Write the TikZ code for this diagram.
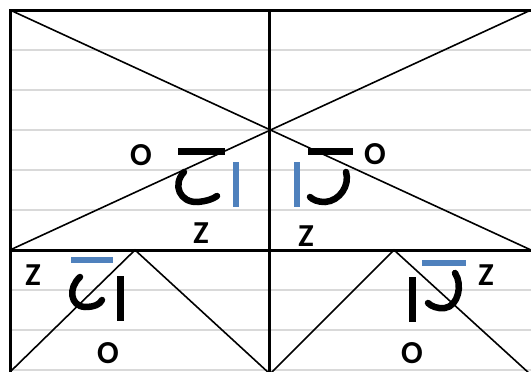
\documentclass[tikz,border=0pt]{standalone}
\usepackage{fontspec}
\setmainfont{Carlito}
\definecolor{barblue}{HTML}{4F81BD}
\definecolor{ruled}{HTML}{D9D9D9}
\begin{document}
\begin{tikzpicture}[x=1pt, y=-1pt,
    frame/.style={line width=3pt},
    diag/.style={line width=1.6pt},
    rule/.style={ruled, line width=2pt},
    blackbar/.style={line width=7pt},
    bluebar/.style={barblue, line width=6.5pt},
    hook/.style={line width=6.5pt, line cap=round},
    lbl/.style={font=\fontsize{32}{32}\selectfont\bfseries, inner sep=0pt}]
  \useasboundingbox (0,0) rectangle (531,372);
  \clip (0,0) rectangle (531,372);
  % ruled paper lines
  \foreach \y in {50,90,130,170,210,290,330,370}{
    \draw[rule] (10,\y) -- (531,\y);
  }
  % corners of the frame
  \coordinate (tl) at (10,10);
  \coordinate (tr) at (531,10);
  \coordinate (ml) at (10,250);
  \coordinate (mr) at (531,250);
  % big cross in the upper half
  \draw[diag] (tl) -- (mr);
  \draw[diag] (tr) -- (ml);
  % two peaks in the lower half
  \coordinate (peakL) at (135,250);
  \coordinate (peakR) at (394,250);
  \draw[diag] (10,372) -- (peakL) -- (270,374);
  \draw[diag] (270,374) -- (peakR) -- (530,374);
  % frame
  \draw[frame] (10,380) -- (tl) -- (540,10);
  \draw[frame] (ml) -- (540,250);
  \draw[frame] (269,10) -- (269,380);
  % upper left group
  \node[lbl] (oA) at (141,155) {O};
  \node[lbl] (zA) at (201,233) {Z};
  \draw[blackbar] (178,151) -- (225,151);
  \draw[bluebar] (236,162) -- (236,207);
  \draw[hook] (184,172) .. controls (172,185) and (180,203) .. (198,202)
    .. controls (207,201) and (213,199) .. (217,196);
  % upper right group
  \node[lbl] (oB) at (375,154) {O};
  \node[lbl] (zB) at (306,236) {Z};
  \draw[blackbar] (308,151) -- (353,151);
  \draw[bluebar] (297,162) -- (297,207);
  \draw[hook] (346,172) .. controls (350,185) and (340,201) .. (325,202)
    .. controls (318,202) and (313,200) .. (310,197);
  % lower left group
  \node[lbl] (zC) at (33,275) {Z};
  \node[lbl] (oC) at (108,353) {O};
  \draw[bluebar] (71,260) -- (113,260);
  \draw[blackbar] (120,276) -- (120,321);
  \draw[hook] (80,277) .. controls (68,288) and (70,306) .. (85,307)
    .. controls (95,307) and (100,304) .. (102,300);
  % lower right group
  \node[lbl] (zD) at (486,275) {Z};
  \node[lbl] (oD) at (412,353) {O};
  \draw[bluebar] (422,263) -- (466,263);
  \draw[blackbar] (412,277) -- (412,322);
  \draw[hook] (455,273) .. controls (463,285) and (458,306) .. (445,308)
    .. controls (437,309) and (431,306) .. (428,303);
\end{tikzpicture}
\end{document}
